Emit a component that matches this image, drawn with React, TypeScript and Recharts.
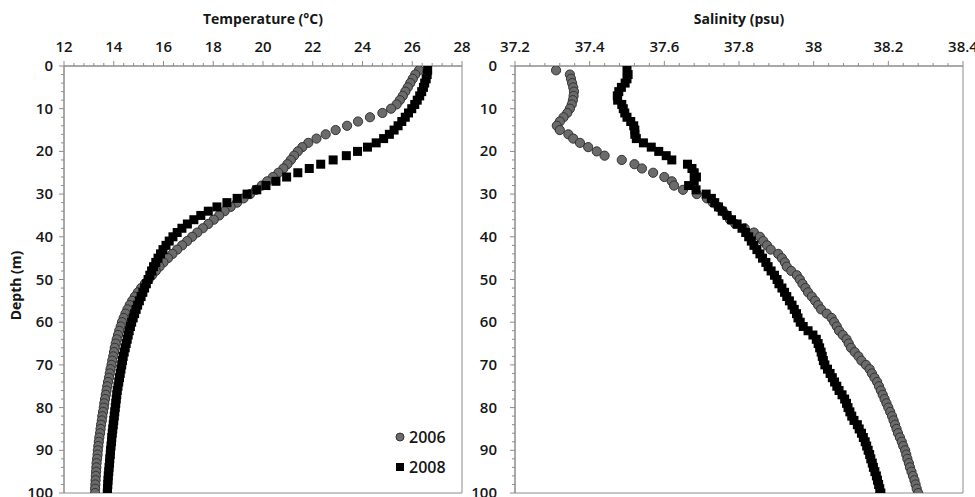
import React from 'react';
import { ScatterChart, Scatter, XAxis, YAxis, ReferenceArea, Legend } from 'recharts';

const depths = [
  1, 2, 3, 4, 5, 6, 7, 8, 9, 10, 11, 12, 13, 14, 15, 16, 17, 18, 19, 20,
  21, 22, 23, 24, 25, 26, 27, 28, 29, 30, 31, 32, 33, 34, 35, 36, 37, 38, 39, 40,
  41, 42, 43, 44, 45, 46, 47, 48, 49, 50, 51, 52, 53, 54, 55, 56, 57, 58, 59, 60,
  61, 62, 63, 64, 65, 66, 67, 68, 69, 70, 71, 72, 73, 74, 75, 76, 77, 78, 79, 80,
  81, 82, 83, 84, 85, 86, 87, 88, 89, 90, 91, 92, 93, 94, 95, 96, 97, 98, 99, 100,
];

const temp2006 = [
  26.27, 26.12, 26.02, 25.92, 25.82, 25.72, 25.62, 25.5, 25.37, 25.15,
  24.8, 24.3, 23.82, 23.38, 22.92, 22.52, 22.15, 21.82, 21.58, 21.4,
  21.25, 21.12, 20.98, 20.82, 20.62, 20.4, 20.17, 19.95, 19.72, 19.48,
  19.22, 18.96, 18.7, 18.46, 18.24, 18.02, 17.8, 17.58, 17.36, 17.15,
  16.95, 16.75, 16.55, 16.36, 16.18, 16.0, 15.84, 15.69, 15.54, 15.4,
  15.25, 15.1, 14.97, 14.85, 14.74, 14.64, 14.55, 14.47, 14.4, 14.33,
  14.28, 14.22, 14.17, 14.12, 14.08, 14.04, 14.01, 13.98, 13.94, 13.91,
  13.87, 13.84, 13.81, 13.77, 13.74, 13.71, 13.68, 13.65, 13.62, 13.6,
  13.57, 13.54, 13.52, 13.49, 13.47, 13.45, 13.42, 13.4, 13.38, 13.36,
  13.35, 13.33, 13.31, 13.3, 13.29, 13.28, 13.27, 13.26, 13.25, 13.25,
];

const temp2008 = [
  26.62, 26.6, 26.56, 26.5, 26.45, 26.38, 26.3, 26.2, 26.1, 25.98,
  25.85, 25.72, 25.58, 25.43, 25.27, 25.08, 24.85, 24.55, 24.2, 23.8,
  23.35, 22.82, 22.32, 21.86, 21.4, 20.95, 20.52, 20.12, 19.75, 19.36,
  18.96, 18.55, 18.15, 17.8, 17.5, 17.22, 16.96, 16.74, 16.55, 16.38,
  16.23, 16.1, 15.98, 15.88, 15.78, 15.69, 15.6, 15.52, 15.45, 15.38,
  15.31, 15.24, 15.17, 15.1, 15.03, 14.96, 14.9, 14.84, 14.78, 14.72,
  14.67, 14.62, 14.58, 14.54, 14.5, 14.46, 14.42, 14.38, 14.35, 14.32,
  14.29, 14.26, 14.23, 14.2, 14.17, 14.14, 14.12, 14.1, 14.08, 14.06,
  14.04, 14.02, 14.0, 13.98, 13.96, 13.94, 13.92, 13.91, 13.89, 13.87,
  13.86, 13.84, 13.83, 13.81, 13.8, 13.78, 13.77, 13.76, 13.75, 13.74,
];

const sal2006 = [
  37.31, 37.347, 37.35, 37.353, 37.356, 37.358, 37.357, 37.355, 37.352, 37.347,
  37.34, 37.33, 37.32, 37.312, 37.32, 37.343, 37.356, 37.374, 37.396, 37.419,
  37.44, 37.486, 37.52, 37.54, 37.57, 37.6, 37.62, 37.626, 37.65, 37.687,
  37.714, 37.73, 37.745, 37.757, 37.767, 37.776, 37.79, 37.815, 37.84, 37.856,
  37.865, 37.875, 37.885, 37.905, 37.915, 37.923, 37.928, 37.94, 37.955, 37.963,
  37.97, 37.978, 37.985, 37.995, 38.004, 38.012, 38.02, 38.035, 38.048, 38.055,
  38.062, 38.068, 38.078, 38.088, 38.094, 38.1, 38.11, 38.12, 38.128, 38.14,
  38.15, 38.156, 38.163, 38.17, 38.175, 38.18, 38.185, 38.19, 38.195, 38.2,
  38.205, 38.21, 38.214, 38.218, 38.222, 38.226, 38.231, 38.236, 38.24, 38.245,
  38.248, 38.251, 38.255, 38.258, 38.262, 38.266, 38.27, 38.273, 38.276, 38.28,
];

const sal2008 = [
  37.5, 37.503, 37.5, 37.495, 37.485, 37.478, 37.474, 37.475, 37.486, 37.49,
  37.494, 37.5, 37.51, 37.518, 37.521, 37.521, 37.525, 37.544, 37.565, 37.585,
  37.605, 37.62, 37.662, 37.674, 37.68, 37.686, 37.68, 37.665, 37.685, 37.712,
  37.726, 37.735, 37.745, 37.755, 37.768, 37.78, 37.795, 37.808, 37.818, 37.826,
  37.833, 37.84, 37.848, 37.856, 37.863, 37.872, 37.878, 37.886, 37.895, 37.902,
  37.907, 37.915, 37.922, 37.928, 37.935, 37.942, 37.948, 37.954, 37.958, 37.964,
  37.972, 37.985, 37.998, 38.007, 38.012, 38.016, 38.02, 38.023, 38.026, 38.03,
  38.037, 38.044, 38.05, 38.056, 38.062, 38.068, 38.076, 38.083, 38.088, 38.092,
  38.097, 38.102, 38.108, 38.117, 38.122, 38.128, 38.133, 38.138, 38.142, 38.146,
  38.15, 38.153, 38.157, 38.16, 38.164, 38.168, 38.171, 38.174, 38.177, 38.18,
];

const seriesNames = ['2006', '2008'];
const tempMajorTicks = [12, 14, 16, 18, 20, 22, 24, 26, 28];
const salMajorTicks = [37.2, 37.4, 37.6, 37.8, 38, 38.2, 38.4];
const depthMajorTicks = [0, 10, 20, 30, 40, 50, 60, 70, 80, 90, 100];

const stepTicks = (min: number, max: number, step: number) => {
  const out: number[] = [];
  const n = Math.round((max - min) / step);
  for (let i = 0; i <= n; i++) out.push(Number((min + i * step).toFixed(4)));
  return out;
};

const tempTicks = stepTicks(12, 28, 0.4);
const salTicks = stepTicks(37.2, 38.4, 0.04);
const depthTicks = stepTicks(0, 100, 2);

const AXIS = '#8c8c8c';
const TEXT = '#161616';
const FONT = "'Open Sans', 'Noto Sans', sans-serif";
const GRAY_FILL = '#6b6b6b';
const GRAY_STROKE = '#333333';

const isMajor = (v: number, majors: number[]) => majors.some((m) => Math.abs(m - v) < 1e-6);

const makeTopTick = (majors: number[]) => (props: any) => {
  const { x, y, payload } = props;
  const major = isMajor(payload.value, majors);
  return (
    <g>
      <line x1={x} x2={x} y1={y} y2={y - (major ? 5 : 3)} stroke={AXIS} strokeWidth={1} />
      {major && (
        <text x={x} y={y - 14} textAnchor="middle" fontSize={15} fontWeight={600} fill={TEXT} fontFamily={FONT}>
          {String(payload.value)}
        </text>
      )}
    </g>
  );
};

const makeLeftTick = (majors: number[], gap: number) => (props: any) => {
  const { x, y, payload } = props;
  const major = isMajor(payload.value, majors);
  return (
    <g>
      <line x1={x} x2={x - (major ? 5 : 3)} y1={y} y2={y} stroke={AXIS} strokeWidth={1} />
      {major && (
        <text x={x - gap} y={y + 5} textAnchor="end" fontSize={15} fontWeight={600} fill={TEXT} fontFamily={FONT}>
          {String(payload.value)}
        </text>
      )}
    </g>
  );
};

const makeTitle = (title: string) => (props: any) => {
  const vb = props.viewBox || {};
  return (
    <text
      x={vb.x + vb.width / 2}
      y={vb.y + 24}
      textAnchor="middle"
      fontSize={14}
      fontWeight="bold"
      fill={TEXT}
      fontFamily={FONT}
    >
      {title}
    </text>
  );
};

const depthLabel = (props: any) => {
  const vb = props.viewBox || {};
  const cx = vb.x + 21;
  const cy = vb.y + vb.height / 2 + 6;
  return (
    <text
      transform={`translate(${cx},${cy}) rotate(-90)`}
      textAnchor="middle"
      fontSize={14}
      fontWeight="bold"
      fill={TEXT}
      fontFamily={FONT}
    >
      Depth (m)
    </text>
  );
};

const circleShape = (p: any) => (
  <circle cx={p.cx} cy={p.cy} r={4.6} fill={GRAY_FILL} stroke={GRAY_STROKE} strokeWidth={1} />
);
const squareShape = (p: any) => <rect x={p.cx - 4.5} y={p.cy - 4.5} width={9} height={9} fill="#000" />;

const temp06Data = depths.map((d, i) => ({ x: temp2006[i], y: d }));
const temp08Data = depths.map((d, i) => ({ x: temp2008[i], y: d }));
const sal06Data = depths.map((d, i) => ({ x: sal2006[i], y: d }));
const sal08Data = depths.map((d, i) => ({ x: sal2008[i], y: d }));

const LegendContent = () => (
  <div style={{ fontFamily: FONT, fontSize: 16, fontWeight: 600, color: TEXT }}>
    <div style={{ display: 'flex', alignItems: 'center', height: 30 }}>
      <svg width={10} height={10} style={{ marginRight: 4 }}>
        <circle cx={5} cy={5} r={4} fill={GRAY_FILL} stroke={GRAY_STROKE} strokeWidth={1} />
      </svg>
      <span>{seriesNames[0]}</span>
    </div>
    <div style={{ display: 'flex', alignItems: 'center', height: 30 }}>
      <svg width={10} height={10} style={{ marginRight: 4 }}>
        <rect x={1} y={1} width={8} height={8} fill="#000" />
      </svg>
      <span>{seriesNames[1]}</span>
    </div>
  </div>
);

export default function App() {
  return (
    <div style={{ position: 'absolute', left: 0, top: 0, width: 975, height: 497, background: '#fff', fontFamily: FONT }}>
      <div style={{ position: 'absolute', left: 0, top: 0 }}>
        <ScatterChart width={480} height={497} margin={{ top: 0, right: 18, bottom: 4, left: 0 }}>
          <XAxis
            type="number"
            dataKey="x"
            orientation="top"
            domain={[12, 28]}
            ticks={tempTicks}
            interval={0}
            tickSize={0}
            tickMargin={0}
            tickLine={false}
            tick={makeTopTick(tempMajorTicks)}
            axisLine={{ stroke: AXIS }}
            height={66}
            allowDataOverflow
            label={{ content: makeTitle('Temperature (°C)') }}
          />
          <YAxis
            type="number"
            dataKey="y"
            domain={[0, 100]}
            reversed
            ticks={depthTicks}
            interval={0}
            tickSize={0}
            tickMargin={0}
            tickLine={false}
            tick={makeLeftTick(depthMajorTicks, 11)}
            axisLine={{ stroke: AXIS }}
            width={64}
            allowDataOverflow
            label={{ content: depthLabel }}
          />
          <ReferenceArea x1={12} x2={28} y1={0} y2={100} fill="none" stroke={AXIS} strokeWidth={1} />
          <Scatter name={seriesNames[0]} data={temp06Data} shape={circleShape} isAnimationActive={false} />
          <Scatter name={seriesNames[1]} data={temp08Data} shape={squareShape} isAnimationActive={false} />
          <Legend
            layout="vertical"
            align="center"
            verticalAlign="middle"
            wrapperStyle={{ left: 395, top: 422, width: 70 }}
            content={<LegendContent />}
          />
        </ScatterChart>
      </div>
      <div style={{ position: 'absolute', left: 465, top: 0 }}>
        <ScatterChart width={510} height={497} margin={{ top: 0, right: 12, bottom: 4, left: 0 }}>
          <XAxis
            type="number"
            dataKey="x"
            orientation="top"
            domain={[37.2, 38.4]}
            ticks={salTicks}
            interval={0}
            tickSize={0}
            tickMargin={0}
            tickLine={false}
            tick={makeTopTick(salMajorTicks)}
            axisLine={{ stroke: AXIS }}
            height={66}
            allowDataOverflow
            label={{ content: makeTitle('Salinity (psu)') }}
          />
          <YAxis
            type="number"
            dataKey="y"
            domain={[0, 100]}
            reversed
            ticks={depthTicks}
            interval={0}
            tickSize={0}
            tickMargin={0}
            tickLine={false}
            tick={makeLeftTick(depthMajorTicks, 18)}
            axisLine={{ stroke: AXIS }}
            width={50}
            allowDataOverflow
          />
          <ReferenceArea x1={37.2} x2={38.4} y1={0} y2={100} fill="none" stroke={AXIS} strokeWidth={1} />
          <Scatter name={seriesNames[0]} data={sal06Data} shape={circleShape} isAnimationActive={false} />
          <Scatter name={seriesNames[1]} data={sal08Data} shape={squareShape} isAnimationActive={false} />
        </ScatterChart>
      </div>
    </div>
  );
}
